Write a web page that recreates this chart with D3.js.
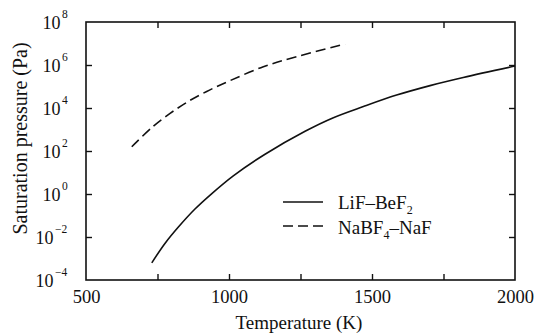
<!DOCTYPE html>
<html><head><meta charset="utf-8">
<script src="https://cdn.jsdelivr.net/npm/d3@7"></script>
<style>body{margin:0;background:#fff}svg{display:block}</style>
</head><body>
<svg id="c" width="536" height="333"></svg>
<script>
const xTicks = [500, 750, 1000, 1250, 1500, 1750, 2000];
const xLabels = [500, 1000, 1500, 2000];
const yExponents = [-4, -2, 0, 2, 4, 6, 8];
const lifT = [730, 776, 823, 881, 940, 1015, 1126, 1266, 1365, 1470, 1586, 1703, 1819, 2000];
const lifP = [6.3e-4, 5.0e-3, 2.9e-2, 2.0e-1, 1.05e0, 7.0e0, 7.1e1, 8.3e2, 3.55e3, 1.17e4, 3.98e4, 1.10e5, 2.63e5, 8.9e5];
const nabT = [660, 735, 794, 852, 922, 1003, 1120, 1237, 1406];
const nabP = [1.58e2, 1.41e3, 5.6e3, 1.82e4, 5.9e4, 1.86e5, 8.3e5, 2.45e6, 9.5e6];
const seriesNames = ["LiF\u2013BeF", "NaBF"];

const svg = d3.select("#c");
const L = 86, R = 515, T = 22, B = 280;
const font = "'Liberation Serif', 'Times New Roman', Times, 'Nimbus Roman', FreeSerif, 'DejaVu Serif', serif";
const ink = "#111";
const x = d3.scaleLinear().domain([500, 2000]).range([L, R]);
const y = d3.scaleLog().domain([1e-4, 1e8]).range([B, T]);
const yVals = yExponents.map(e => Math.pow(10, e));

svg.append("rect").attr("x", L).attr("y", T).attr("width", R - L).attr("height", B - T)
  .attr("fill", "none").attr("stroke", ink).attr("stroke-width", 1.6);

function styleAxis(g) {
  g.attr("font-family", null).style("font-family", font).attr("font-size", 18.5);
  g.select(".domain").remove();
  g.selectAll(".tick line").attr("stroke", ink).attr("stroke-width", 1.4);
  g.selectAll("text").attr("fill", ink);
}

const gx = svg.append("g").attr("transform", `translate(0,${B})`)
  .call(d3.axisBottom(x).tickValues(xTicks).tickSizeInner(-6).tickSizeOuter(0)
    .tickFormat(d => xLabels.includes(d) ? d : ""));
styleAxis(gx);
gx.selectAll(".tick text").attr("y", 23).attr("dy", 0);
gx.selectAll(".tick").filter(d => d === 500 || d === 2000).select("line").remove();

const gt = svg.append("g").attr("transform", `translate(0,${T})`)
  .call(d3.axisTop(x).tickValues(xTicks.filter(d => d !== 500 && d !== 2000)).tickSizeInner(-6).tickSizeOuter(0).tickFormat(""));
styleAxis(gt);

const gl = svg.append("g").attr("transform", `translate(${L},0)`)
  .call(d3.axisLeft(y).tickValues(yVals).tickSizeInner(-6).tickSizeOuter(0).tickFormat(""));
styleAxis(gl);
gl.selectAll(".tick").filter(d => d === 1e-4 || d === 1e8).select("line").remove();
gl.selectAll(".tick text").remove();
gl.selectAll(".tick").each(function(d) {
  const e = Math.round(Math.log10(d));
  const g = d3.select(this);
  const lbl = e < 0 ? "\u2212" + (-e) : String(e);
  const edge = e < 0 ? -32.5 : -25.5;
  g.append("text").attr("x", edge).attr("y", 6.8).attr("text-anchor", "end")
    .style("font-family", font).attr("font-size", 18).attr("fill", ink).text("10");
  g.append("text").attr("x", edge + 1.5).attr("y", -4.5).attr("text-anchor", "start")
    .style("font-family", font).attr("font-size", 11.5).attr("fill", ink).text(lbl);
});

const gr = svg.append("g").attr("transform", `translate(${R},0)`)
  .call(d3.axisRight(y).tickValues(yVals.filter(d => d !== 1e-4 && d !== 1e8)).tickSizeInner(-6).tickSizeOuter(0).tickFormat(""));
styleAxis(gr);

svg.append("text").attr("x", 299).attr("y", 329).attr("text-anchor", "middle")
  .style("font-family", font).attr("font-size", 19).attr("fill", ink).text("Temperature (K)");
svg.append("text").attr("transform", "translate(27,138.5) rotate(-90)").attr("text-anchor", "middle")
  .style("font-family", font).attr("font-size", 20).attr("fill", ink).text("Saturation pressure (Pa)");

const line = d3.line().x(d => x(d[0])).y(d => y(d[1])).curve(d3.curveCatmullRom.alpha(0.5));
const plot = svg.append("g");
plot.append("path").datum(lifT.map((t, i) => [t, lifP[i]])).attr("d", line)
  .attr("fill", "none").attr("stroke", ink).attr("stroke-width", 1.6);
plot.append("path").datum(nabT.map((t, i) => [t, nabP[i]])).attr("d", line)
  .attr("fill", "none").attr("stroke", ink).attr("stroke-width", 1.6).attr("stroke-dasharray", "10,5");

const lg = svg.append("g").style("font-family", font).attr("fill", ink);
lg.append("line").attr("x1", 283).attr("x2", 323).attr("y1", 202).attr("y2", 202).attr("stroke", ink).attr("stroke-width", 1.6);
lg.append("line").attr("x1", 283).attr("x2", 323).attr("y1", 226).attr("y2", 226).attr("stroke", ink).attr("stroke-width", 1.6).attr("stroke-dasharray", "10,5");
const t1 = lg.append("text").attr("x", 338).attr("y", 208.5).attr("font-size", 19);
t1.append("tspan").text(seriesNames[0]);
t1.append("tspan").attr("dy", 5).attr("font-size", 12).text("2");
const t2 = lg.append("text").attr("x", 338).attr("y", 233.5).attr("font-size", 19);
t2.append("tspan").text(seriesNames[1]);
t2.append("tspan").attr("dy", 5).attr("font-size", 12).text("4");
t2.append("tspan").attr("dy", -5).text("\u2013NaF");
</script>
</body></html>
